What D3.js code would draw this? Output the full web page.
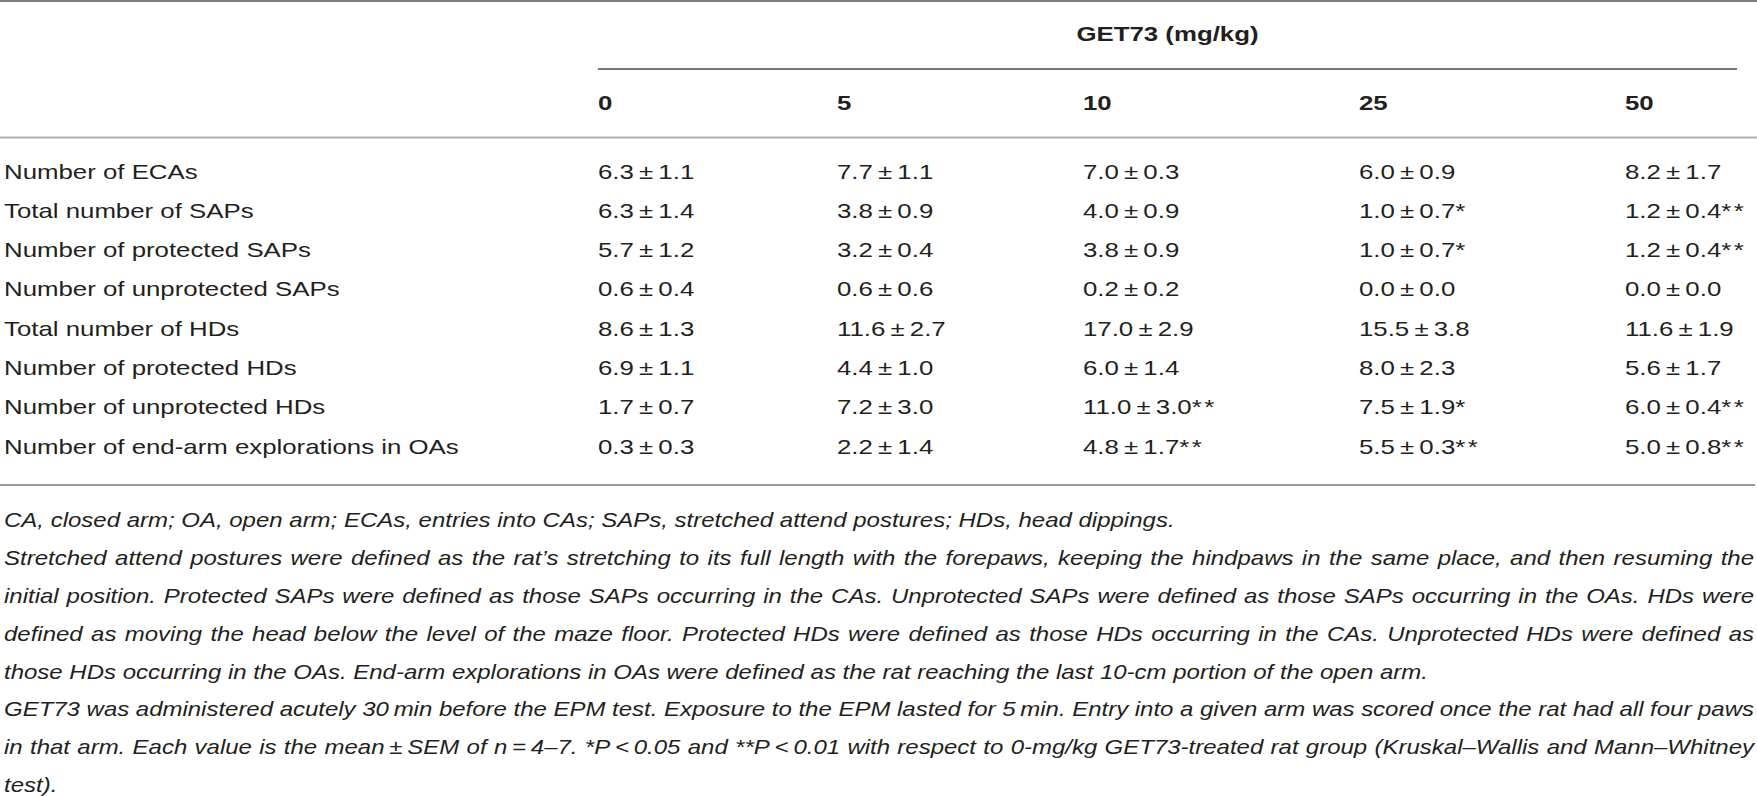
<!DOCTYPE html>
<html>
<head>
<meta charset="utf-8">
<script src="https://cdn.jsdelivr.net/npm/d3@7"></script>
<style>
  body { margin: 0; background: #fff; }
  svg { display: block; }
  text { font-family: "Liberation Sans", Arial, sans-serif; fill: #231f20; }
</style>
</head>
<body>
<div id="table"></div>
<script>
const width = 1757;
const height = 796;

// data
const doses = ["0", "5", "10", "25", "50"];
const rowLabels = [
    "Number of ECAs",
    "Total number of SAPs",
    "Number of protected SAPs",
    "Number of unprotected SAPs",
    "Total number of HDs",
    "Number of protected HDs",
    "Number of unprotected HDs",
    "Number of end-arm explorations in OAs"
];
const means = [
    [6.3, 7.7, 7.0, 6.0, 8.2],
    [6.3, 3.8, 4.0, 1.0, 1.2],
    [5.7, 3.2, 3.8, 1.0, 1.2],
    [0.6, 0.6, 0.2, 0.0, 0.0],
    [8.6, 11.6, 17.0, 15.5, 11.6],
    [6.9, 4.4, 6.0, 8.0, 5.6],
    [1.7, 7.2, 11.0, 7.5, 6.0],
    [0.3, 2.2, 4.8, 5.5, 5.0]
];
const sems = [
    [1.1, 1.1, 0.3, 0.9, 1.7],
    [1.4, 0.9, 0.9, 0.7, 0.4],
    [1.2, 0.4, 0.9, 0.7, 0.4],
    [0.4, 0.6, 0.2, 0.0, 0.0],
    [1.3, 2.7, 2.9, 3.8, 1.9],
    [1.1, 1.0, 1.4, 2.3, 1.7],
    [0.7, 3.0, 3.0, 1.9, 0.4],
    [0.3, 1.4, 1.7, 0.3, 0.8]
];
const signif = [
    ["", "", "", "", ""],
    ["", "", "", "*", "**"],
    ["", "", "", "*", "**"],
    ["", "", "", "", ""],
    ["", "", "", "", ""],
    ["", "", "", "", ""],
    ["", "", "**", "*", "**"],
    ["", "", "**", "**", "**"]
];
const headerTitle = "GET73 (mg/kg)";
const notes = [
    "CA, closed arm; OA, open arm; ECAs, entries into CAs; SAPs, stretched attend postures; HDs, head dippings.",
    "Stretched attend postures were defined as the rat\u2019s stretching to its full length with the forepaws, keeping the hindpaws in the same place, and then resuming the",
    "initial position. Protected SAPs were defined as those SAPs occurring in the CAs. Unprotected SAPs were defined as those SAPs occurring in the OAs. HDs were",
    "defined as moving the head below the level of the maze floor. Protected HDs were defined as those HDs occurring in the CAs. Unprotected HDs were defined as",
    "those HDs occurring in the OAs. End-arm explorations in OAs were defined as the rat reaching the last 10-cm portion of the open arm.",
    "GET73 was administered acutely 30\u2009min before the EPM test. Exposure to the EPM lasted for 5\u2009min. Entry into a given arm was scored once the rat had all four paws",
    "in that arm. Each value is the mean\u2009\u00b1\u2009SEM of n\u2009=\u20094\u20137. *P\u2009<\u20090.05 and **P\u2009<\u20090.01 with respect to 0-mg/kg GET73-treated rat group (Kruskal\u2013Wallis and Mann\u2013Whitney",
    "test)."
];
const justified = [false, true, true, true, false, true, true, false];

// layout
const fontSize = 21;
const sx = 1.23;          // horizontal stretch of the table typeface
const noteSize = 20;
const noteSx = 1.2;
const left = 4;
const right = 1754;

const x = d3.scaleOrdinal().domain(doses).range([598, 837, 1083, 1359, 1625]);
const y = d3.scalePoint().domain(rowLabels).range([171, 446]);
const yNote = d3.scalePoint().domain(d3.range(notes.length)).range([520, 785]);

const svg = d3.select("#table").append("svg")
    .attr("width", width)
    .attr("height", height);

function rule(x1, x2, yy, color) {
    svg.append("line")
        .attr("x1", x1).attr("x2", x2)
        .attr("y1", yy).attr("y2", yy)
        .style("stroke", color)
        .style("stroke-width", 2);
}

rule(0, width, 1, "#7d7d7d");
rule(598, 1737, 69, "#777");
rule(0, width, 137.5, "#b0b0b0");
rule(0, right + 1, 485, "#999");

function stretched(sel, px, py, s) {
    return sel.attr("transform", `translate(${px},${py}) scale(${s || sx},1)`);
}

// header
stretched(svg.append("text"), (598 + 1737) / 2, 33)
    .attr("text-anchor", "middle")
    .attr("dy", "0.36em")
    .style("font-size", fontSize + "px")
    .style("font-weight", "bold")
    .text(headerTitle);

svg.selectAll("text.dose")
    .data(doses)
    .join("text")
    .attr("class", "dose")
    .each(function(d) { stretched(d3.select(this), x(d), 102); })
    .attr("dy", "0.36em")
    .style("font-size", fontSize + "px")
    .style("font-weight", "bold")
    .text(d => d);

// body
svg.selectAll("text.label")
    .data(rowLabels)
    .join("text")
    .attr("class", "label")
    .each(function(d) { stretched(d3.select(this), left, y(d)); })
    .attr("dy", "0.36em")
    .style("font-size", fontSize + "px")
    .text(d => d);

const cells = [];
rowLabels.forEach((r, i) => {
    doses.forEach((dose, j) => {
        cells.push({ row: r, dose: dose, m: means[i][j], s: sems[i][j], sig: signif[i][j] });
    });
});

const cell = svg.selectAll("text.cell")
    .data(cells)
    .join("text")
    .attr("class", "cell")
    .each(function(d) { stretched(d3.select(this), x(d.dose), y(d.row)); })
    .attr("dy", "0.36em")
    .style("font-size", fontSize + "px");

cell.append("tspan")
    .text(d => d.m.toFixed(1) + "\u2009\u00b1\u2009" + d.s.toFixed(1));
cell.append("tspan")
    .style("letter-spacing", "2px")
    .text(d => d.sig);

// footnotes
const note = svg.selectAll("text.note")
    .data(notes)
    .join("text")
    .attr("class", "note")
    .each(function(d, i) { stretched(d3.select(this), left, yNote(i), noteSx); })
    .attr("dy", "0.36em")
    .style("font-size", noteSize + "px")
    .style("font-style", "italic")
    .text(d => d);

// justify the full lines by widening the word gaps
note.each(function(d, i) {
    if (!justified[i]) return;
    const natural = this.getComputedTextLength();
    const gaps = d.split(" ").length - 1;
    const target = (right - left) / noteSx;
    let ws = (target - natural) / gaps;
    if (ws < 0) {
        d3.select(this).style("letter-spacing", ((target - natural) / d.length) + "px");
        ws = 0;
    }
    d3.select(this).style("word-spacing", ws + "px");
});
</script>
</body>
</html>
